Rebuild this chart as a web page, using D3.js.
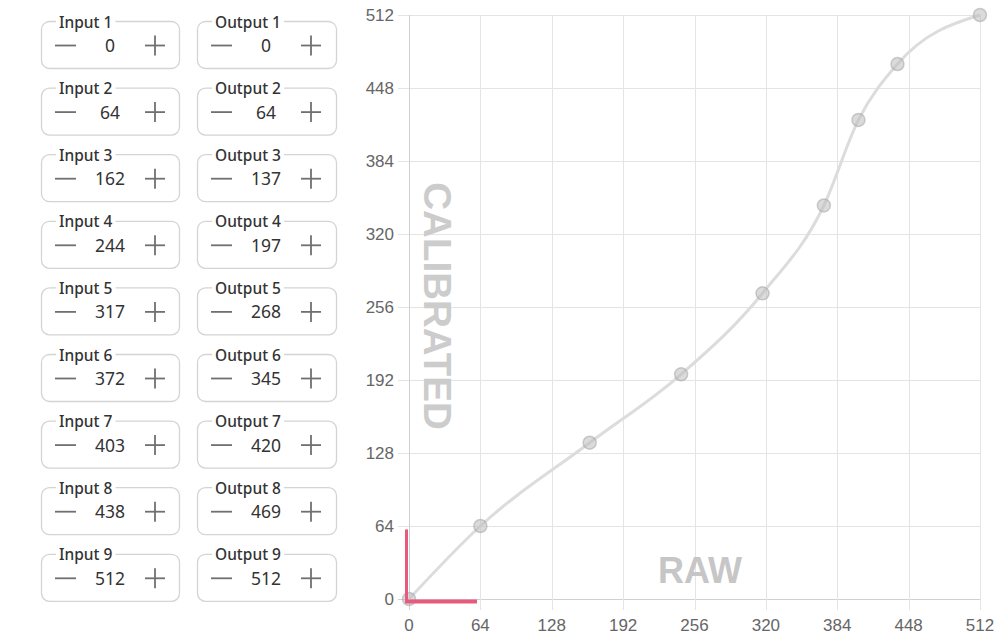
<!DOCTYPE html>
<html><head><meta charset="utf-8">
<script src="https://cdn.jsdelivr.net/npm/d3@7"></script>
<style>
body{margin:0;background:#fff;}
svg{display:block;}
</style></head>
<body>
<svg id="c" width="998" height="637"></svg>
<script>
const inputs = [0, 64, 162, 244, 317, 372, 403, 438, 512];
const outputs = [0, 64, 137, 197, 268, 345, 420, 469, 512];
const tickValues = [0, 64, 128, 192, 256, 320, 384, 448, 512];
const xTitle = "RAW";
const yTitle = "CALIBRATED";
const markerLen = 61;

const svg = d3.select("#c");
const x = d3.scaleLinear().domain([0, 512]).range([409, 980]);
const y = d3.scaleLinear().domain([0, 512]).range([599, 15]);

// ---- left panel ----
const panel = svg.append("g");
inputs.forEach((v, i) => {
  const top = 21 + i * 66.6;
  [[41, 138, "Input " + (i + 1), v], [197, 139, "Output " + (i + 1), outputs[i]]].forEach(([bx, bw, lab, val]) => {
    const g = panel.append("g");
    g.append("rect").attr("x", bx + 0.5).attr("y", top + 0.5).attr("width", bw).attr("height", 47)
      .attr("rx", 8).attr("fill", "#fff").attr("stroke", "#d4d4d4").attr("stroke-width", 1.3);
    const t = g.append("text").attr("x", bx + 18).attr("y", top + 6.5).text(lab)
      .attr("font-family", "Noto Sans, Open Sans, sans-serif").attr("font-size", 15.5)
      .attr("font-weight", 500).attr("fill", "#333");
    const bb = t.node().getBBox();
    g.insert("rect", "text").attr("x", bb.x - 3).attr("y", top - 2).attr("width", bb.width + 6).attr("height", 5).attr("fill", "#fff");
    // minus
    g.append("line").attr("x1", bx + 14).attr("x2", bx + 35).attr("y1", top + 24.5).attr("y2", top + 24.5)
      .attr("stroke", "#707070").attr("stroke-width", 1.8);
    // plus
    const px = bx + 114, py = top + 24.5;
    g.append("line").attr("x1", px - 10).attr("x2", px + 10).attr("y1", py).attr("y2", py).attr("stroke", "#707070").attr("stroke-width", 1.8);
    g.append("line").attr("x1", px).attr("x2", px).attr("y1", py - 10).attr("y2", py + 10).attr("stroke", "#707070").attr("stroke-width", 1.8);
    g.append("text").attr("x", bx + 69).attr("y", top + 31).attr("text-anchor", "middle").text(val)
      .attr("font-family", "Noto Sans, Open Sans, sans-serif").attr("font-size", 17.5).attr("fill", "#333");
  });
});

// ---- chart ----
const grid = svg.append("g");
grid.selectAll("line.h").data(tickValues).join("line")
  .attr("x1", 398).attr("x2", x(512)).attr("y1", d => Math.round(y(d)) + 0.5).attr("y2", d => Math.round(y(d)) + 0.5)
  .attr("stroke", d => d === 0 ? "#d0d0d0" : "#e4e4e4").attr("stroke-width", 1);
grid.selectAll("line.v").data(tickValues).join("line")
  .attr("y1", y(512)).attr("y2", 610).attr("x1", d => Math.round(x(d)) + 0.5).attr("x2", d => Math.round(x(d)) + 0.5)
  .attr("stroke", d => d === 0 ? "#d0d0d0" : "#e4e4e4").attr("stroke-width", 1);

const tf = "Liberation Sans, Arial, sans-serif";
svg.append("g").selectAll("text").data(tickValues).join("text")
  .attr("x", 394).attr("y", d => y(d) + 6).attr("text-anchor", "end").text(d => d)
  .attr("font-family", tf).attr("font-size", 17).attr("fill", "#666");
svg.append("g").selectAll("text").data(tickValues).join("text")
  .attr("x", d => x(d)).attr("y", 631).attr("text-anchor", "middle").text(d => d)
  .attr("font-family", tf).attr("font-size", 17).attr("fill", "#666");

// axis titles
svg.append("text").attr("transform", "translate(424,306) rotate(90)").attr("text-anchor", "middle")
  .text(yTitle).attr("font-family", tf).attr("font-weight", "bold").attr("font-size", 38.5).attr("fill", "#cccccc");
svg.append("text").attr("x", 700).attr("y", 583).attr("text-anchor", "middle")
  .text(xTitle).attr("font-family", tf).attr("font-weight", "bold").attr("font-size", 36).attr("fill", "#c6c6c6");

// curve
const pts = inputs.map((v, i) => [v, outputs[i]]);
const line = d3.line().x(d => x(d[0])).y(d => y(d[1])).curve(d3.curveMonotoneX);
svg.append("path").attr("d", line(pts)).attr("fill", "none").attr("stroke", "#dcdcdc").attr("stroke-width", 3);
svg.append("g").selectAll("circle").data(pts).join("circle")
  .attr("cx", d => x(d[0])).attr("cy", d => y(d[1])).attr("r", 6.5)
  .attr("fill", "rgba(190,190,190,0.55)").attr("stroke", "rgba(160,160,160,0.5)").attr("stroke-width", 1.5);

// origin marker
const mk = svg.append("g").attr("stroke", "#e85a7d").attr("fill", "none");
mk.append("line").attr("x1", x(0) - 2.5).attr("x2", x(0) - 2.5).attr("y1", y(markerLen)).attr("y2", y(0) + 4).attr("stroke-width", 3);
mk.append("line").attr("x1", x(0) - 4).attr("x2", x(markerLen)).attr("y1", y(0) + 2.5).attr("y2", y(0) + 2.5).attr("stroke-width", 4);
</script>
</body></html>
